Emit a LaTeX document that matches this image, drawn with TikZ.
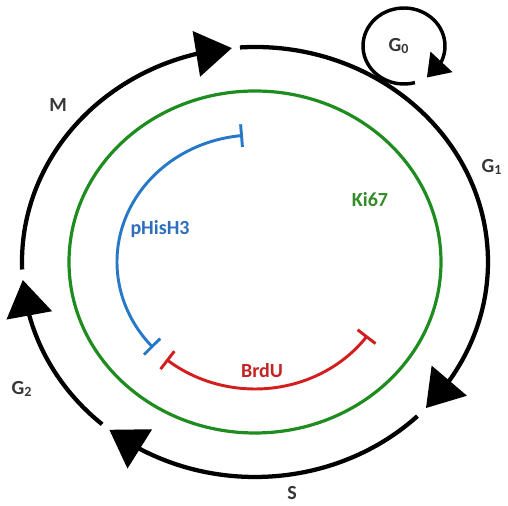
\documentclass[tikz,border=0pt]{standalone}
\usepackage{fontspec}
\setmainfont{Carlito}
\usetikzlibrary{arrows.meta,calc,bending}
\definecolor{kgreen}{RGB}{30,140,30}
\definecolor{kblue}{RGB}{40,120,200}
\definecolor{kred}{RGB}{210,30,30}
\definecolor{tgreen}{RGB}{50,140,40}
\definecolor{tblue}{RGB}{45,110,190}
\definecolor{tred}{RGB}{195,35,35}
\definecolor{lgray}{RGB}{55,55,55}
\begin{document}
\begin{tikzpicture}[x=0.75pt,y=0.75pt,
  cyc/.style={line width=3.2pt, -{Triangle[length=27pt,width=34pt,flex]}},
  loopy/.style={line width=2.6pt, -{Triangle[length=16pt,width=22pt,flex]}},
  marker/.style={line width=2.2pt, {Bar[width=17pt]}-{Bar[width=17pt]}},
  lab/.style={font=\fontsize{15}{18}\selectfont\bfseries, text=lgray, inner sep=0pt}]
\useasboundingbox (0,0) rectangle (508,506);
\coordinate (c) at (255,244);
\coordinate (g0c) at (404,460);
% Ki67 circle
\draw[kgreen, line width=2.4pt] (c) ellipse [x radius=186, y radius=171];
% cell cycle arcs
\draw[cyc] ($(c)+(182:233 and 215)$) arc[start angle=182, end angle=95.7, x radius=233, y radius=215];
\draw[cyc] ($(c)+(93.7:233 and 215)$) arc[start angle=93.7, end angle=-42.8, x radius=233, y radius=215];
\draw[cyc] ($(c)+(-45.8:233 and 215)$) arc[start angle=-45.8, end angle=-128.7, x radius=233, y radius=215];
\draw[cyc] ($(c)+(-131:233 and 215)$) arc[start angle=-131, end angle=-175.2, x radius=233, y radius=215];
% G0 loop
\draw[loopy] ($(g0c)+(-74.5:41 and 38)$) arc[start angle=-74.5, end angle=-416, x radius=41, y radius=38];
% markers
\draw[kblue, marker] ($(c)+(95:138 and 127)$) arc[start angle=95, end angle=222.4, x radius=138, y radius=127];
\draw[kred, marker] ($(c)+(230:138 and 127)$) arc[start angle=230, end angle=324.6, x radius=138, y radius=127];
% labels
\node[lab] (M) at (58,401) {M};
\node[lab] (G0) at (399,460) {G\textsubscript{0}};
\node[lab] (G1) at (492,339) {G\textsubscript{1}};
\node[lab] (G2) at (22,117) {G\textsubscript{2}};
\node[lab] (S) at (292,13) {S};
\node[lab, text=tblue] (pH) at (160,277) {pHisH3};
\node[lab, text=tgreen] (Ki) at (370,306) {Ki67};
\node[lab, text=tred] (Br) at (262,135) {BrdU};
\end{tikzpicture}
\end{document}
